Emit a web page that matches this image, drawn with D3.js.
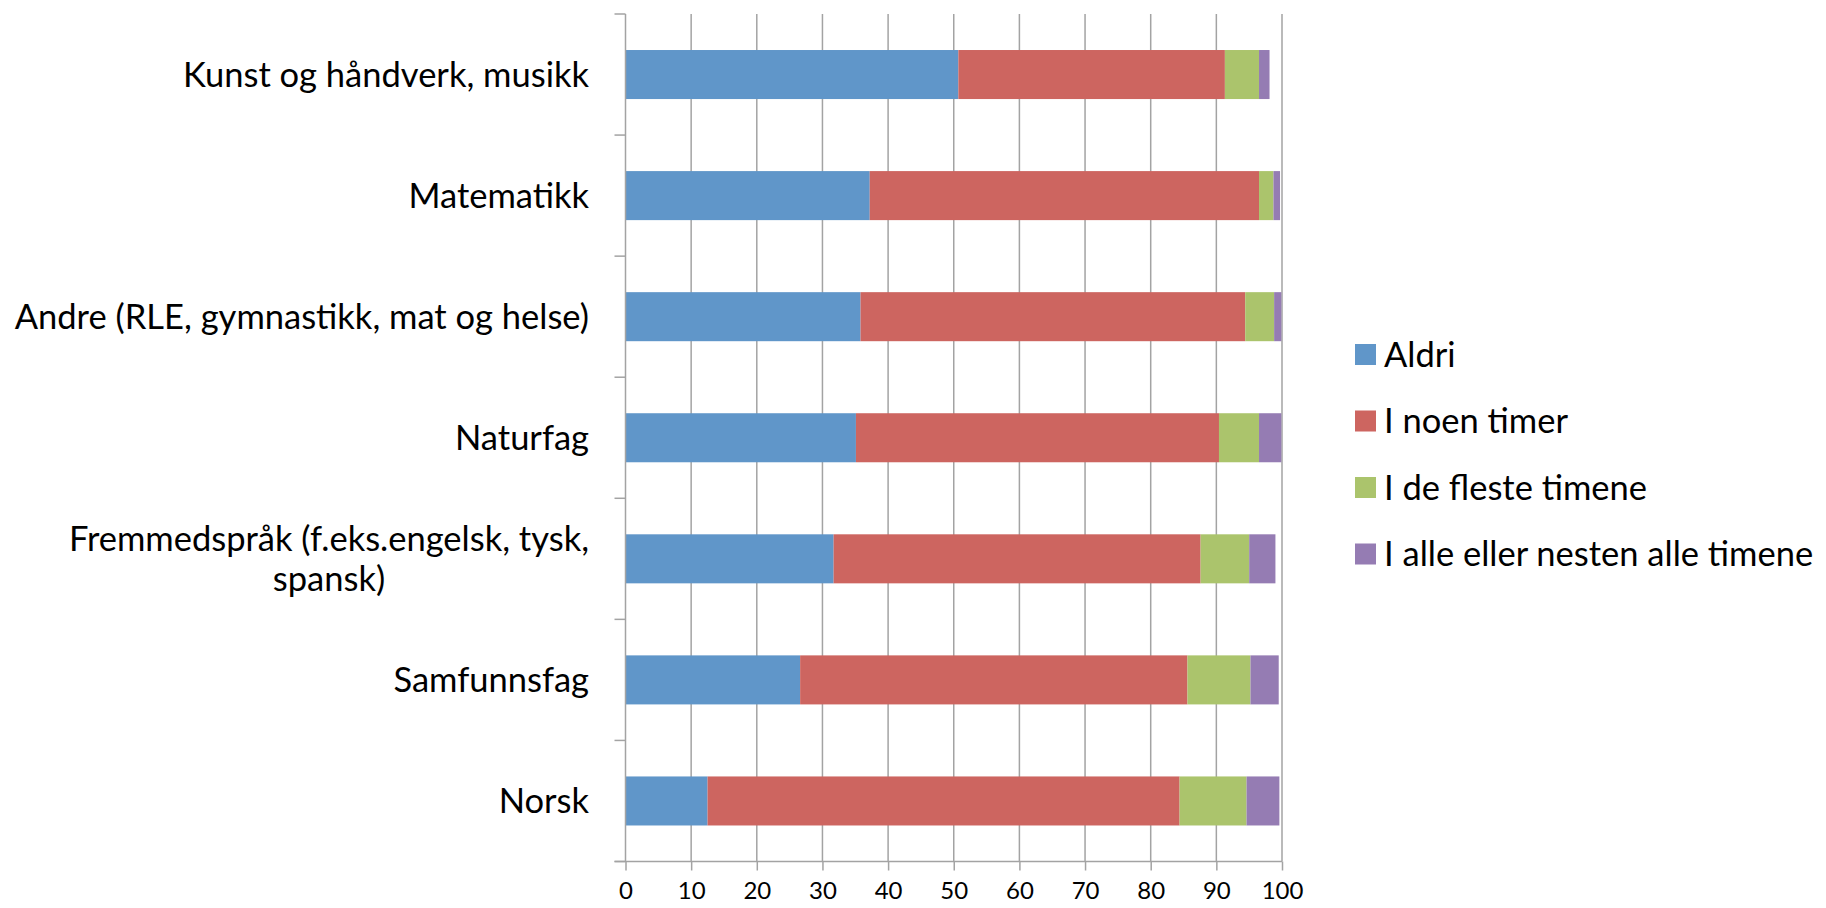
<!DOCTYPE html>
<html>
<head>
<meta charset="utf-8">
<script src="https://cdnjs.cloudflare.com/ajax/libs/d3/7.8.5/d3.min.js"></script>
<style>
  body { margin: 0; background: #fff; }
  text { font-family: Lato, "Noto Sans", sans-serif; fill: #000; }
</style>
</head>
<body>
<div class="forSvg"></div>
<script>
// categories, top to bottom
const categories = [
  "Kunst og håndverk, musikk",
  "Matematikk",
  "Andre (RLE, gymnastikk, mat og helse)",
  "Naturfag",
  "Fremmedspråk (f.eks.engelsk, tysk, spansk)",
  "Samfunnsfag",
  "Norsk"
];
// how labels break into lines
const labelLines = [
  ["Kunst og håndverk, musikk"],
  ["Matematikk"],
  ["Andre (RLE, gymnastikk, mat og helse)"],
  ["Naturfag"],
  ["Fremmedspråk (f.eks.engelsk, tysk,", "spansk)"],
  ["Samfunnsfag"],
  ["Norsk"]
];
const seriesNames = ["Aldri", "I noen timer", "I de fleste timene", "I alle eller nesten alle timene"];
// percent per series, same order as categories
const aldri      = [50.7, 37.2, 35.8, 35.1, 31.7, 26.6, 12.5];
const noenTimer  = [40.6, 59.3, 58.6, 55.3, 55.9, 59.0, 71.9];
const flesteTimene = [5.2, 2.2, 4.4, 6.1, 7.4, 9.6, 10.2];
const alleTimene = [1.6, 1.0, 1.1, 3.4, 4.0, 4.3, 5.0];
const xTicks = [0, 10, 20, 30, 40, 50, 60, 70, 80, 90, 100];

const colors = ["#6096c9", "#cd6560", "#abc46c", "#957cb3"];

const svg_w = 1826;
const svg_h = 908;

const plotLeft = 625.5;
const plotRight = 1282;
const plotTop = 14;
const plotBottom = 861.5;

const seriesValues = [aldri, noenTimer, flesteTimene, alleTimene];

// rows for the stack
const rows = categories.map((c, i) => {
  const r = { cat: c };
  seriesNames.forEach((s, j) => r[s] = seriesValues[j][i]);
  return r;
});
const stacked = d3.stack().keys(seriesNames)(rows);

const xScale = d3.scaleLinear()
  .domain([0, 100])
  .range([plotLeft, plotRight]);

const yScale = d3.scaleBand()
  .domain(categories)
  .range([plotTop, plotBottom])
  .paddingInner(0.595)
  .paddingOuter(0.2975);

const svg = d3.select(".forSvg")
  .append("svg")
  .attr("width", svg_w)
  .attr("height", svg_h);

const gridColor = "#a3a3a3";

// vertical gridlines
svg.append("g")
  .selectAll("line")
  .data(xTicks.slice(1))
  .enter()
  .append("line")
  .attr("x1", d => xScale(d))
  .attr("x2", d => xScale(d))
  .attr("y1", plotTop)
  .attr("y2", plotBottom)
  .attr("stroke", gridColor)
  .attr("stroke-width", 1.5);

// bars
svg.append("g")
  .selectAll("g")
  .data(stacked)
  .enter()
  .append("g")
  .attr("fill", (d, i) => colors[i])
  .selectAll("rect")
  .data(d => d)
  .enter()
  .append("rect")
  .attr("x", d => xScale(d[0]))
  .attr("y", d => yScale(d.data.cat))
  .attr("width", d => xScale(d[1]) - xScale(d[0]))
  .attr("height", yScale.bandwidth());

// x axis
const xAxis = d3.axisBottom(xScale)
  .tickValues(xTicks)
  .tickSize(9)
  .tickPadding(11);

const gx = svg.append("g")
  .attr("transform", "translate(0," + plotBottom + ")")
  .call(xAxis);
gx.select(".domain").remove();
gx.selectAll(".tick line").attr("stroke", gridColor).attr("stroke-width", 1.5);
gx.selectAll("text").style("font-size", "24px").style("font-family", "Lato, sans-serif");
gx.append("line")
  .attr("x1", plotLeft - 11)
  .attr("x2", plotRight)
  .attr("stroke", gridColor)
  .attr("stroke-width", 1.5);

// y axis line and ticks at category boundaries
const step = yScale.step();
const boundaries = d3.range(categories.length + 1).map(i => plotTop + i * step);
svg.append("line")
  .attr("x1", plotLeft)
  .attr("x2", plotLeft)
  .attr("y1", plotTop)
  .attr("y2", plotBottom)
  .attr("stroke", gridColor)
  .attr("stroke-width", 1.5);
svg.append("g")
  .selectAll("line")
  .data(boundaries)
  .enter()
  .append("line")
  .attr("x1", plotLeft - 11)
  .attr("x2", plotLeft)
  .attr("y1", d => d)
  .attr("y2", d => d)
  .attr("stroke", gridColor)
  .attr("stroke-width", 1.5);

// category labels
const labelRight = 589;
const labelSize = 34.5;
const lineH = 40;
svg.append("g")
  .selectAll("text")
  .data(categories)
  .enter()
  .append("text")
  .style("font-size", labelSize + "px")
  .each(function(c, i) {
    const lines = labelLines[i];
    const cy = yScale(c) + yScale.bandwidth() / 2;
    const t = d3.select(this);
    if (lines.length === 1) {
      t.attr("text-anchor", "end")
        .attr("x", labelRight)
        .attr("y", cy)
        .attr("dy", "0.36em")
        .text(lines[0]);
    } else {
      // multi-line labels centred on each other
      const tmp = t.append("tspan").text(lines[0]);
      const w = tmp.node().getComputedTextLength();
      tmp.remove();
      const cx = labelRight - w / 2;
      t.attr("text-anchor", "middle");
      lines.forEach((ln, k) => {
        t.append("tspan")
          .attr("x", cx)
          .attr("y", cy + (k - (lines.length - 1) / 2) * lineH)
          .attr("dy", "0.36em")
          .text(ln);
      });
    }
  });

// legend
const legend = svg.append("g")
  .attr("transform", "translate(1355,344)");
const legendItems = legend.selectAll("g")
  .data(seriesNames)
  .enter()
  .append("g")
  .attr("transform", (d, i) => "translate(0," + (i * 66.5) + ")");
legendItems.append("rect")
  .attr("width", 21)
  .attr("height", 21)
  .attr("fill", (d, i) => colors[i]);
legendItems.append("text")
  .attr("x", 29)
  .attr("y", 10.5)
  .attr("dy", "0.36em")
  .style("font-size", "34.5px")
  .text(d => d);
</script>
</body>
</html>
